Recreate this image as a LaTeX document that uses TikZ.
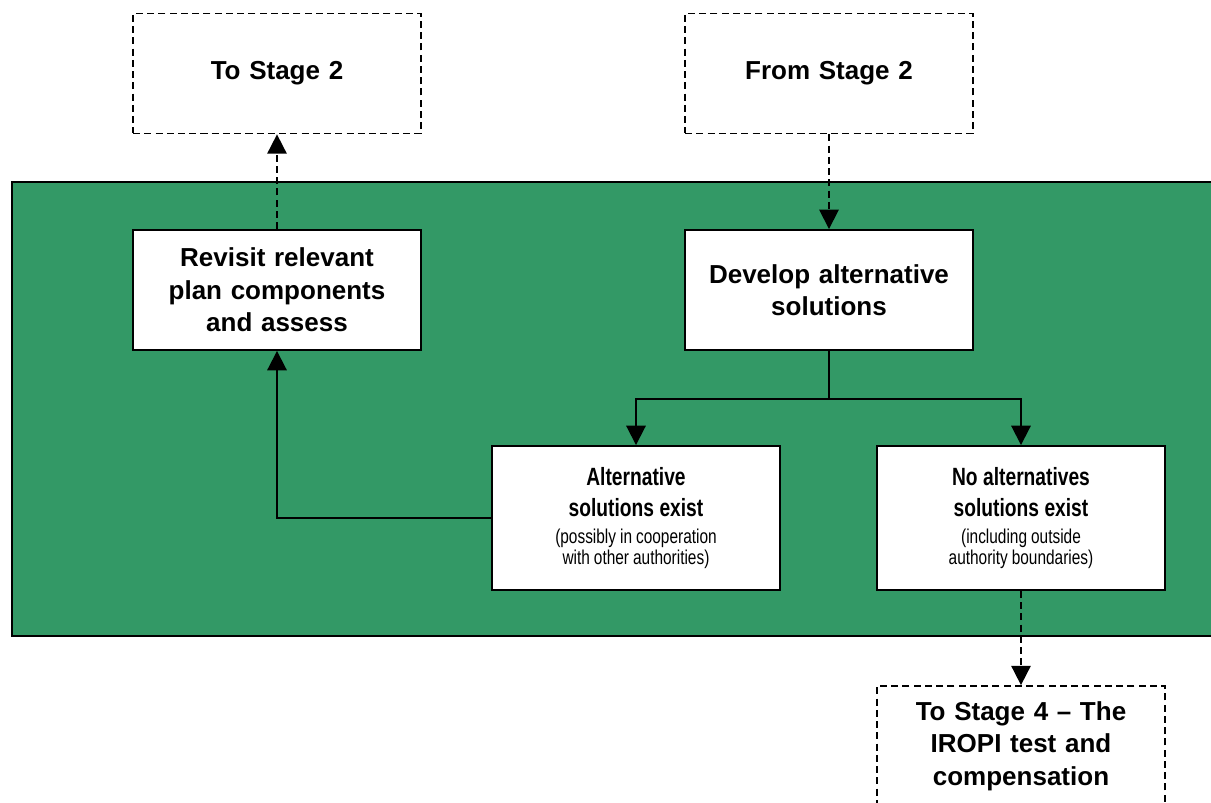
\documentclass[tikz,border=0pt]{standalone}
\usepackage{fontspec}
\setmainfont{Liberation Sans}
\newfontfamily\narrowsans[FakeStretch=0.77]{Liberation Sans}
\usetikzlibrary{arrows.meta}
\definecolor{stagegreen}{RGB}{51,153,102}
\newcommand\stagefont{\fontsize{14.8pt}{18.5pt}\selectfont\bfseries}
\newcommand\choicefont{\narrowsans\fontsize{14.2pt}{17.6pt}\selectfont\bfseries\spaceskip=0.22em}
\newcommand\notefont{\narrowsans\fontsize{11.4pt}{12.3pt}\selectfont\mdseries\spaceskip=0.2em}
\begin{document}
\begin{tikzpicture}[x=0.02cm, y=-0.02cm, line width=1.1pt,
    >={Triangle[length=11pt,width=11pt]},
    stepbox/.style={draw, fill=white, minimum width=5.76cm, minimum height=2.4cm,
      inner sep=0pt, text width=5.4cm, align=center, font=\stagefont},
    stagebox/.style={stepbox, dash pattern=on 4pt off 2.4pt, line width=1pt},
    choicebox/.style={stepbox, minimum height=2.88cm},
    flow/.style={->},
    link/.style={->, dash pattern=on 4pt off 2.4pt, line width=1pt}]
  \clip (0,0) rectangle (1211,803);
  \draw [fill=stagegreen] (12,182) rectangle (1240,636);

  \node [stagebox] (to2) at (277,73.5) {To Stage 2};
  \node [stagebox] (from2) at (829,73.5) {From Stage 2};
  \node [stepbox] (revisit) at (277,290) {Revisit relevant\\plan components\\and assess};
  \node [stepbox] (develop) at (829,290) {Develop alternative\\solutions};
  \node [choicebox] (alt) at (636,518)
    {\choicefont Alternative\\solutions exist\par\vspace{3pt}%
     \notefont (possibly in cooperation\\with other authorities)\par};
  \node [choicebox] (noalt) at (1021,518)
    {\choicefont No alternatives\\solutions exist\par\vspace{3pt}%
     \notefont (including outside\\authority boundaries)\par};
  \node [stagebox] (to4) at (1021,746) {To Stage 4 -- The\\IROPI test and\\compensation};

  \draw [link] (revisit) -- (to2);
  \draw [link] (from2) -- (develop);
  \draw (develop.south) -- ++(0,48) coordinate (split);
  \draw [flow] (split) -| (alt.north);
  \draw [flow] (split) -| (noalt.north);
  \draw [flow] (alt.west) -| (revisit.south);
  \draw [link] (noalt) -- (to4);
\end{tikzpicture}
\end{document}
